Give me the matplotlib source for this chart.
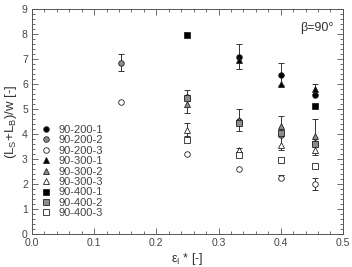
import numpy as np
import matplotlib
matplotlib.use("Agg")
from matplotlib import pyplot as plt
from matplotlib.ticker import MultipleLocator

plt.rcParams["font.family"] = ["Liberation Sans", "DejaVu Sans"]
plt.rcParams["mathtext.fontset"] = "custom"
plt.rcParams["mathtext.rm"] = "Liberation Sans"
plt.rcParams["mathtext.it"] = "Liberation Sans"

nan = np.nan
eps = [1 / 7, 0.25, 1 / 3, 0.4, 5 / 11]

# (L_S+L_B)/w per test series
s_200_1 = [nan, nan, 7.1, 6.38, 5.55]
s_200_2 = [6.85, 5.5, 4.5, 3.95, 3.65]
s_200_3 = [5.3, 3.18, 2.6, 2.25, 2.0]
s_300_1 = [nan, nan, 6.95, 6.0, 5.8]
s_300_2 = [nan, 5.2, 4.55, 4.3, 3.92]
s_300_3 = [nan, 4.15, 3.35, 3.55, 3.35]
s_400_1 = [nan, 7.95, nan, nan, 5.12]
s_400_2 = [nan, 5.45, 4.45, 4.05, 3.6]
s_400_3 = [nan, 3.75, 3.15, 2.95, 2.72]

# error bars: x, lower end, upper end
err_x = [1 / 7, 0.25, 0.25, 1 / 3, 1 / 3, 1 / 3, 0.4, 0.4, 0.4, 5 / 11, 5 / 11, 5 / 11]
err_lo = [6.52, 4.85, 3.9, 6.6, 4.1, 3.1, 5.98, 3.35, 2.18, 5.6, 3.15, 1.75]
err_hi = [7.2, 5.78, 4.45, 7.6, 5.0, 3.45, 6.85, 4.7, 2.35, 6.02, 4.58, 2.23]

series = [
    ("90-200-1", s_200_1, "o", "black"),
    ("90-200-2", s_200_2, "o", "#8c8c8c"),
    ("90-200-3", s_200_3, "o", "white"),
    ("90-300-1", s_300_1, "^", "black"),
    ("90-300-2", s_300_2, "^", "#8c8c8c"),
    ("90-300-3", s_300_3, "^", "white"),
    ("90-400-1", s_400_1, "s", "black"),
    ("90-400-2", s_400_2, "s", "#8c8c8c"),
    ("90-400-3", s_400_3, "s", "white"),
]

fig = plt.figure(figsize=(3.52, 2.67), dpi=100)
ax = fig.add_axes([0.091, 0.124, 0.883, 0.842])

lo = np.array(err_lo)
hi = np.array(err_hi)
mid = (lo + hi) / 2
ax.errorbar(err_x, mid, yerr=(hi - lo) / 2, fmt="none", ecolor="#333333",
            elinewidth=0.7, capsize=2.5, capthick=0.7, zorder=1)

for name, vals, m, fc in series:
    ax.plot(eps, vals, m, ms=4, mfc=fc, mec="#222222", mew=0.6,
            label=name, zorder=2)

ax.set_xlim(0, 0.5)
ax.set_ylim(0, 9)
ax.xaxis.set_major_locator(MultipleLocator(0.1))
ax.xaxis.set_minor_locator(MultipleLocator(0.02))
ax.yaxis.set_major_locator(MultipleLocator(1))
ax.yaxis.set_minor_locator(MultipleLocator(0.2))
ax.xaxis.set_major_formatter(matplotlib.ticker.FormatStrFormatter("%.1f"))
ax.tick_params(which="both", direction="in", top=True, right=True,
               labelsize=7.5, colors="#555555", labelcolor="#444444", width=0.6)
ax.tick_params(which="major", length=4, pad=3)
ax.tick_params(which="minor", length=2)
for sp in ax.spines.values():
    sp.set_linewidth(0.7)
    sp.set_color("#555555")

ax.set_xlabel(r"$\epsilon_I$ * [-]", fontsize=9, color="#333333", labelpad=2)
ax.set_ylabel(r"(L$_S$+L$_B$)/w [-]", fontsize=9.5, color="#333333", labelpad=2)
ax.text(0.97, 0.915, "β=90°", transform=ax.transAxes, ha="right", va="center",
        fontsize=9, color="#333333")

ax.legend(loc="upper left", bbox_to_anchor=(0.0, 0.52), frameon=False,
          fontsize=8, labelcolor="#444444", handletextpad=0.45,
          labelspacing=0.04, borderaxespad=0.3, handlelength=1.2)

fig.savefig("out.png", dpi=100)
